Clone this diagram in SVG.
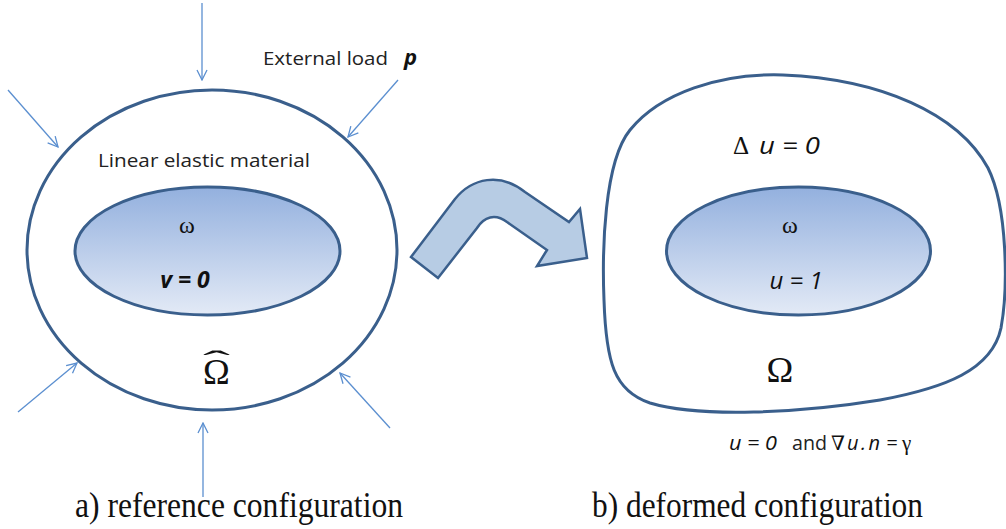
<svg xmlns="http://www.w3.org/2000/svg" width="1006" height="529" viewBox="0 0 1006 529">
<defs>
<linearGradient id="g" x1="0" y1="0" x2="0" y2="1">
<stop offset="0" stop-color="#93b0de"/>
<stop offset="1" stop-color="#e3eaf6"/>
</linearGradient>
<marker id="ah" viewBox="0 0 12 12" refX="11" refY="6" markerWidth="12" markerHeight="12" markerUnits="userSpaceOnUse" orient="auto">
<polyline points="1,1 11,6 1,11" fill="none" stroke="#5b8fd0" stroke-width="1.3"/>
</marker>
<style>
.shape{fill:none;stroke:#3a5f8c;stroke-width:3}
.inner{fill:url(#g);stroke:#3a5f8c;stroke-width:3}
.load{stroke:#5b8fd0;stroke-width:1.3;fill:none;marker-end:url(#ah)}
.sans{font-family:"Open Sans","Liberation Sans",sans-serif;fill:#222}
.serif{font-family:"Liberation Serif","Times New Roman","DejaVu Serif",serif;fill:#111}
.math{font-family:"Open Sans","Liberation Sans",sans-serif;font-style:italic;fill:#111}
</style>
</defs>
<rect width="1006" height="529" fill="#ffffff"/>

<g id="reference-body">
<ellipse cx="212" cy="250" rx="185" ry="160" class="shape"/>
</g>
<g id="reference-inclusion">
<ellipse cx="207.5" cy="251" rx="132.5" ry="64" class="inner"/>
<text x="187" y="233" class="serif" font-size="24" text-anchor="middle">ω</text>
<text x="185" y="288" class="math" font-size="23" font-weight="bold" text-anchor="middle">v = 0</text>
</g>
<text class="serif" font-size="36"><tspan x="203" y="384">Ω</tspan><tspan x="203" y="371" font-size="30" textLength="27" lengthAdjust="spacingAndGlyphs">ˆ</tspan></text>
<text x="98" y="167" class="sans" font-size="18" textLength="212" lengthAdjust="spacingAndGlyphs">Linear elastic material</text>
<text x="263" y="65" class="sans" font-size="19" textLength="125" lengthAdjust="spacingAndGlyphs">External load</text>
<text x="404" y="65" class="math" font-size="22" font-weight="bold">p</text>

<g id="loads">
<line x1="202" y1="3" x2="202" y2="80" class="load"/>
<line x1="8" y1="90" x2="58" y2="147" class="load"/>
<line x1="398" y1="80" x2="348" y2="137" class="load"/>
<line x1="18" y1="412" x2="77" y2="363" class="load"/>
<line x1="203" y1="497" x2="203" y2="423" class="load"/>
<line x1="390" y1="428" x2="340" y2="373" class="load"/>
</g>

<g id="transform-arrow">
<path d="M411,257 L455,199 C472,178 500,172 525,192 L569,222 L580,209 L587,258 L537,266 L547,250 L507,222 C495,213 484,217 477,228 L438,278 Z" fill="#b7cce4" stroke="#3a5f8c" stroke-width="2.5" stroke-linejoin="miter"/>
</g>

<g id="deformed-body">
<path d="M783,75 C880,79 958,113 988,168 C1008,208 1008,290 1001,328 C992,370 945,388 880,400 C800,413 700,418 650,403 C614,391 606,362 604,300 C602,250 604,162 630,130 C660,93 720,73 783,75 Z" class="shape"/>
<text x="733" y="154" class="serif" font-size="25">Δ</text>
<text x="759" y="154" class="math" font-size="24" textLength="61" lengthAdjust="spacingAndGlyphs">u = 0</text>
<text x="780" y="382" class="serif" font-size="36" text-anchor="middle">Ω</text>
<text x="729" y="450" class="math" font-size="20" textLength="48" lengthAdjust="spacingAndGlyphs">u = 0</text>
<text x="792" y="450" class="sans" font-size="20" textLength="35" lengthAdjust="spacingAndGlyphs">and</text>
<text x="831" y="450" class="serif" font-size="20">∇</text>
<text x="847" y="450" class="math" font-size="20" letter-spacing="2.5">u.n</text>
<text x="886" y="450" class="math" font-size="20">=</text>
<text x="902" y="450" class="serif" font-size="21">γ</text>
</g>
<g id="deformed-inclusion">
<ellipse cx="798.5" cy="251" rx="132" ry="64" class="inner"/>
<text x="790" y="233" class="serif" font-size="24" text-anchor="middle">ω</text>
<text x="796" y="289" class="math" font-size="24" text-anchor="middle">u = 1</text>
</g>

<text x="75" y="517" class="serif" font-size="36" textLength="328" lengthAdjust="spacingAndGlyphs">a) reference configuration</text>
<text x="592" y="517" class="serif" font-size="36" textLength="331" lengthAdjust="spacingAndGlyphs">b) deformed configuration</text>
</svg>
